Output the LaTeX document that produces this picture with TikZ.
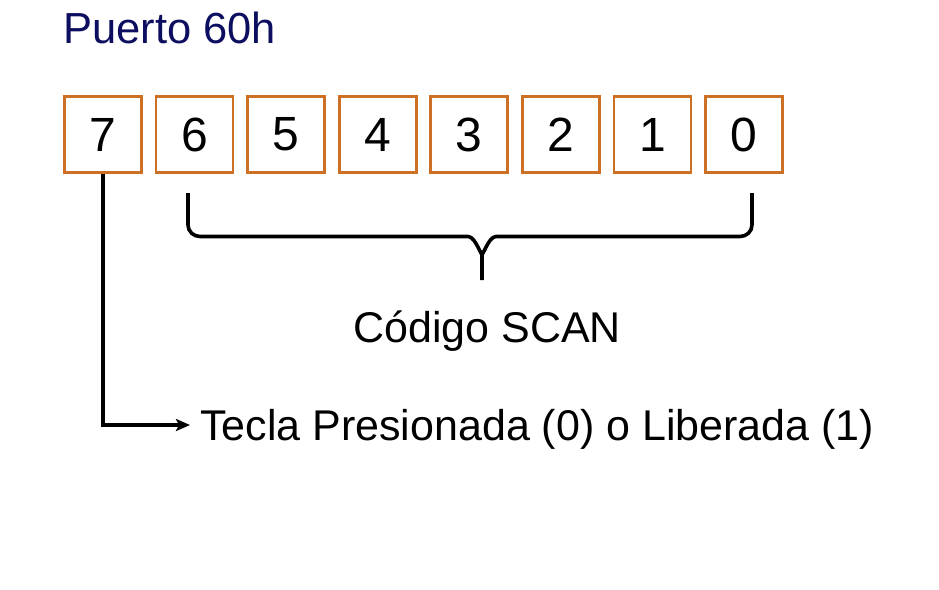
\documentclass[tikz,border=0pt]{standalone}
\usepackage{fontspec}
\setmainfont{Liberation Sans}
\usetikzlibrary{arrows.meta}
\definecolor{boxorange}{RGB}{204,112,36}
\definecolor{titlenavy}{RGB}{14,14,96}
\begin{document}
\begin{tikzpicture}[x=1pt,y=-1pt,
  bitbox/.style={draw=boxorange,line width=2.6pt,minimum width=77pt,minimum height=76pt,inner sep=0pt,
    font=\fontsize{48}{56}\selectfont},
  lbl/.style={inner sep=0pt,font=\fontsize{43}{50}\selectfont},
  conn/.style={line width=3.6pt,line join=round}]
\useasboundingbox (0,0) rectangle (939,589);
\node[inner sep=0pt,anchor=base west,text=titlenavy,font=\fontsize{43.5}{50}\selectfont] (title) at (63,43) {Puerto 60h};
\foreach \b [count=\i from 0] in {7,6,5,4,3,2,1,0}{
  \node[bitbox] (b\b) at ({103+91.57*\i},134.5) {\b};
}
\node[lbl,anchor=base west] (scan) at (353,342) {Código SCAN};
\node[lbl,anchor=base west] (tecla) at (200,440) {Tecla Presionada (0) o Liberada (1)};
\coordinate (bl) at (188,193);
\coordinate (br) at (752,193);
\coordinate (tip) at (482,280);
\draw[conn] (bl) -- (188,225) to[out=-90,in=180] (200,236.5) -- (468,236.5) to[out=0,in=-90] (482,252) -- (tip);
\draw[conn] (br) -- (752,225) to[out=-90,in=0] (740,236.5) -- (496,236.5) to[out=180,in=-90] (482,252);
\coordinate (arrowend) at (190,425);
\draw[conn,line join=miter,-{Stealth[length=14pt,width=12pt,inset=3pt]}] (b7.south) |- (arrowend);
\end{tikzpicture}
\end{document}
